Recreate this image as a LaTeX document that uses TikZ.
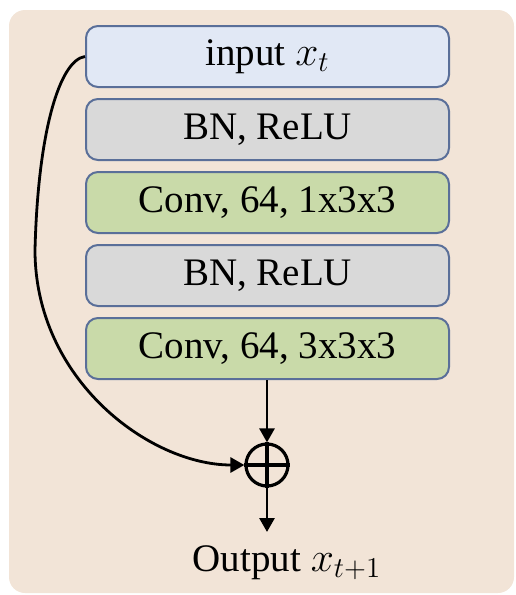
\documentclass[tikz,border=0pt]{standalone}
\usepackage{fontspec}
\setmainfont{Liberation Serif}
\usetikzlibrary{arrows.meta}
\definecolor{panel}{HTML}{F2E4D7}
\definecolor{edgeblue}{HTML}{5A6F99}
\definecolor{inblue}{HTML}{E1E8F5}
\definecolor{bngray}{HTML}{D9D9D9}
\definecolor{convgreen}{HTML}{C9DAA9}
\begin{document}
\begin{tikzpicture}[x=0.5pt,y=-0.5pt,
  layer/.style={draw=edgeblue,line width=1pt,rounded corners=6pt,
    minimum width=181.5pt,minimum height=30.5pt,inner sep=0pt,
    font=\fontsize{19.5}{22}\selectfont},
  link/.style={line width=1.4pt,-{Triangle[length=7pt,width=7.5pt]}},
  lbl/.style={font=\fontsize{19.5}{22}\selectfont,inner sep=0pt}]
  % canvas and panel
  \useasboundingbox (0,0) rectangle (515,595);
  \fill[panel,rounded corners=8pt] (9,10) rectangle (514,593);
  % stack of layers
  \node[layer,fill=inblue]    (in)  at (267.5,56.5)  {input $x_t$};
  \node[layer,fill=bngray]    (bn1) at (267.5,129.5) {BN, ReLU};
  \node[layer,fill=convgreen] (c1)  at (267.5,202.5) {Conv, 64, 1x3x3};
  \node[layer,fill=bngray]    (bn2) at (267.5,275.5) {BN, ReLU};
  \node[layer,fill=convgreen] (c2)  at (267.5,348.5) {Conv, 64, 3x3x3};
  % summation
  \node[circle,draw,line width=1.6pt,minimum size=21pt,inner sep=0pt] (sum) at (267,465) {};
  \draw[line width=2.2pt] (sum.north) -- (sum.south) (sum.west) -- (sum.east);
  % output label
  \node[lbl] (out) at (287,563) {Output $x_{t+1}$};
  \coordinate (outtop) at (267,532);
  % connectors
  \draw[link] (c2.south -| sum) -- (sum.north);
  \draw[link] (sum.south) -- (outtop);
  \draw[link] (in.west) .. controls (60,60) and (38,130) .. (35,250)
                       .. controls (35,380) and (150,465) .. (sum.west);
\end{tikzpicture}
\end{document}
